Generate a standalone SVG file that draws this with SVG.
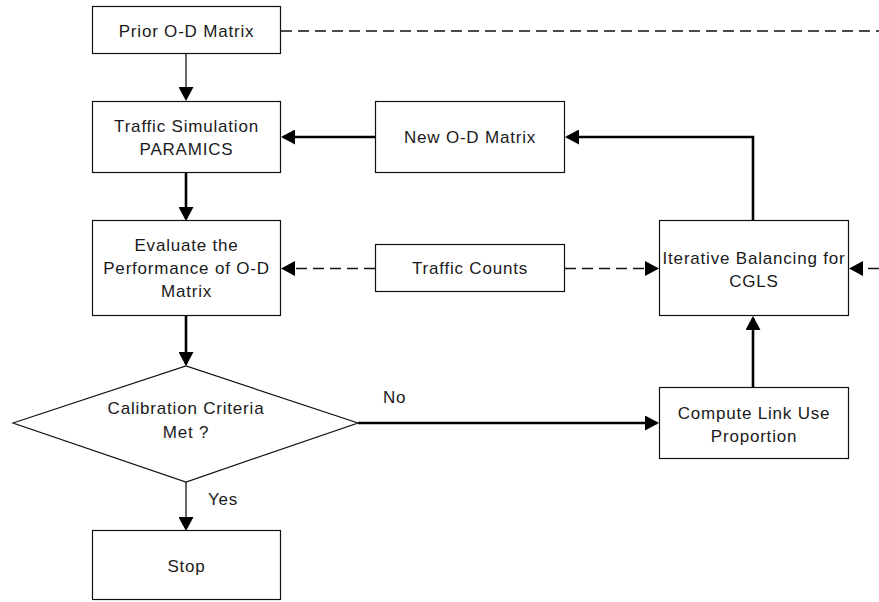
<svg xmlns="http://www.w3.org/2000/svg" width="879" height="602" viewBox="0 0 879 602">
<style>
.box{fill:#fff;stroke:#111;stroke-width:1.2}
.t{font-family:"Liberation Sans",Arial,sans-serif;font-size:17px;letter-spacing:0.8px;fill:#1a1a1a;text-anchor:middle}
.tl{font-family:"Liberation Sans",Arial,sans-serif;font-size:17px;letter-spacing:0.8px;fill:#1a1a1a}
.thin{fill:none;stroke:#000;stroke-width:1.2}
.thick{fill:none;stroke:#000;stroke-width:2.6}
.dash{fill:none;stroke:#111;stroke-width:1.3;stroke-dasharray:11 6}
</style>
<defs>
<marker id="ah" viewBox="0 0 14 15" markerWidth="14" markerHeight="15" refX="12" refY="7.5" orient="auto" markerUnits="userSpaceOnUse">
<path d="M0,0 L14,7.5 L0,15 Z" fill="#000"/>
</marker>
</defs>
<rect width="879" height="602" fill="#fff"/>
<g id="connectors">
<path class="thin" d="M186,54 V99" marker-end="url(#ah)"/>
<path class="thick" d="M375,137 H283" marker-end="url(#ah)"/>
<path class="thick" d="M186,173 V219" marker-end="url(#ah)"/>
<path class="dash" d="M375,268.5 H283" marker-end="url(#ah)"/>
<path class="dash" d="M565,268.5 H657" marker-end="url(#ah)"/>
<path class="dash" d="M879,268.5 H851" marker-end="url(#ah)"/>
<path class="dash" d="M281,31 H879"/>
<path class="thick" d="M753,221 V137 H567" marker-end="url(#ah)"/>
<path class="thick" d="M186,316 V364" marker-end="url(#ah)"/>
<path class="thick" d="M358,423 H657" marker-end="url(#ah)"/>
<path class="thick" d="M753,388 V318" marker-end="url(#ah)"/>
<path class="thin" d="M186,482 V529" marker-end="url(#ah)"/>
<text class="tl" x="383" y="403">No</text>
<text class="tl" x="208" y="505">Yes</text>
</g>
<g id="prior">
<rect class="box" x="92.5" y="6.5" width="188" height="47"/>
<text class="t" x="186.5" y="36.5">Prior O-D Matrix</text>
</g>
<g id="simulation">
<rect class="box" x="92.5" y="101.5" width="188" height="71"/>
<text class="t" x="186.5" y="131.5">Traffic Simulation</text>
<text class="t" x="186.5" y="155">PARAMICS</text>
</g>
<g id="newod">
<rect class="box" x="375.5" y="101.5" width="189" height="71"/>
<text class="t" x="470" y="143">New O-D Matrix</text>
</g>
<g id="evaluate">
<rect class="box" x="92.5" y="220.5" width="188" height="95"/>
<text class="t" x="186.5" y="250.5">Evaluate the</text>
<text class="t" x="186.5" y="273.5">Performance of O-D</text>
<text class="t" x="186.5" y="297">Matrix</text>
</g>
<g id="counts">
<rect class="box" x="375.5" y="244.5" width="189" height="47"/>
<text class="t" x="470" y="274">Traffic Counts</text>
</g>
<g id="iterative">
<rect class="box" x="659.5" y="220.5" width="189" height="95"/>
<text class="t" x="754" y="263.5">Iterative Balancing for</text>
<text class="t" x="754" y="286.5">CGLS</text>
</g>
<g id="decision">
<polygon class="box" points="13,423 186,366 358,423 186,482"/>
<text class="t" x="186" y="413.5">Calibration Criteria</text>
<text class="t" x="186" y="438">Met ?</text>
</g>
<g id="compute">
<rect class="box" x="659.5" y="387.5" width="189" height="71"/>
<text class="t" x="754" y="418.5">Compute Link Use</text>
<text class="t" x="754" y="442">Proportion</text>
</g>
<g id="stop">
<rect class="box" x="92.5" y="530.5" width="188" height="69"/>
<text class="t" x="186.5" y="572">Stop</text>
</g>
</svg>
